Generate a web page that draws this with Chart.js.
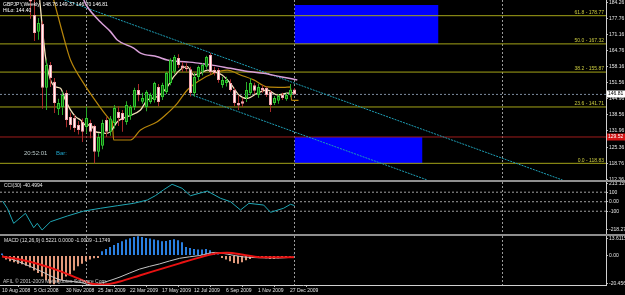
<!DOCTYPE html>
<html>
<head>
<meta charset="utf-8">
<script src="https://cdn.jsdelivr.net/npm/chart.js@4.4.1/dist/chart.umd.min.js"></script>
<style>
  html, body { margin: 0; padding: 0; background: #000; }
  #wrap { position: relative; width: 625px; height: 295px; overflow: hidden; background: #000; }
  canvas { position: absolute; left: 0; display: block; }
  .sep { position: absolute; left: 0; width: 625px; height: 2px; background: #8e8e8e; }
</style>
</head>
<body>
<div id="wrap">
  <canvas id="priceChart" style="top:0;width:625px;height:180px" width="625" height="180"></canvas>
  <div class="sep" style="top:180px"></div>
  <canvas id="cciChart" style="top:182px;width:625px;height:52px" width="625" height="52"></canvas>
  <div class="sep" style="top:234px"></div>
  <canvas id="macdChart" style="top:236px;width:625px;height:59px" width="625" height="59"></canvas>
</div>
<script>
// weekly candles, first visible week = 7 (week 0 = 10 Aug 2008)
var firstWeek = 7;
var opens  = [191, 179, 172.2, 175.5, 149.5, 158.7, 152, 140.8, 141.7, 147.4,
              137.6, 137.2, 134.4, 135.6, 133.6, 135.2, 134, 123.5, 126, 136.4,
              131.6, 135.2, 139.7, 139.3, 135.6, 138, 141.7, 148.6, 143.8, 141.7,
              143.7, 144.5, 149.8, 145.7, 147.8, 151.4, 156, 161.6, 158.5, 157.5,
              157, 147.4, 153.9, 156, 158, 162.8, 156.7, 156.7, 150.6, 151.4,
              151.4, 148.6, 143.3, 144, 145.4, 147.4, 150.5, 146.6, 149.4, 149.4,
              147.8, 143.3, 144.2, 146.6, 144.8, 146.6, 148.76];
var highs  = [192, 186, 177.8, 176.5, 161, 160, 153.5, 145, 148, 148.5,
              139.5, 138.5, 136, 137, 141.7, 136.5, 134.5, 131, 136.5, 137.5,
              138, 142.5, 142, 140.5, 144, 142.5, 149.5, 151, 147.5, 148.5,
              147.5, 152, 151, 151.5, 156, 161.5, 162.8, 163.1, 160, 159.5,
              158, 155.5, 158.5, 159.5, 162.5, 163.6, 158, 157.5, 154, 154,
              153, 149.5, 146.5, 145.5, 151.8, 153.5, 151.5, 151, 150.5, 150,
              148.5, 146.2, 147, 147.5, 147.5, 151, 149.37];
var lows   = [177.5, 168.5, 169, 141, 140.5, 149.8, 139.3, 138.5, 138.5, 133.5,
              132.5, 131.5, 130.5, 127.5, 131, 129, 118.83, 121.5, 124.5, 129.5,
              130, 133, 134, 131.6, 134.5, 136.5, 140.5, 144, 143, 140,
              143, 143.5, 142, 144.5, 147, 150.5, 155, 157.5, 156, 156,
              146, 146, 152.5, 154.5, 157, 155, 154.5, 151.5, 149.5, 150,
              148, 142, 140.5, 141.7, 143.7, 146.5, 147, 145.5, 147.5, 145.8,
              139.7, 142.5, 143, 144.5, 144.2, 145.8, 146.70];
var closes = [184.5, 171.7, 175.8, 149.5, 158.7, 153.5, 143.3, 143.3, 146.6, 136.4,
              134.4, 133.2, 132.4, 131.6, 137.2, 131.6, 123.5, 129.5, 135.2, 131.6,
              137, 141.3, 137.2, 136.4, 142.5, 141.7, 148.6, 146.6, 145.4, 147.8,
              146.6, 151.4, 143.7, 150.6, 155.5, 160.8, 162, 158.75, 157.5, 157,
              147.4, 153.9, 157.9, 158.75, 162, 155.9, 155.5, 152.7, 152.7, 152.7,
              148.6, 143.3, 142.3, 143, 148.6, 151.4, 148.3, 149.8, 148.4, 146.6,
              142.5, 145.4, 146.2, 145.4, 146.6, 148.7, 146.81];

// moving averages (week, price)
var fastMaWeeks = [9.3, 10.75, 12, 13.25, 14.5, 15.75, 17, 18.25, 19.5, 20.75, 22, 23.25, 24.5, 25.75, 27, 28.7, 31.2, 34.5, 36.2, 38.7,
                   41.2, 42.8, 44.9, 46.2, 47.8, 49.5, 51.2, 52.8, 54.9, 57, 59.1, 61.2, 63.7, 66.2, 68.7, 71.2, 73];
var fastMa      = [185.1, 162.1, 152.7, 149.9, 149.3, 144.5, 140.5, 137.8, 136.4, 134.4, 134.4, 131.7, 131.3, 131.0, 131.7, 135.7, 137.8, 140.5, 144.5, 145.9,
                   149.9, 154.0, 157.4, 158.1, 154.7, 155.4, 156.7, 156.0, 154.7, 151.3, 146.6, 145.2, 147.3, 148.6, 146.6, 147.3, 147.5];
var hiloWeeks = [12.8, 16.2, 17, 20.3, 23.7, 26.2, 27, 27.4, 27.8, 32, 34.5, 38.7, 41.2, 43.7, 46.2, 49.5, 52.8, 56.2, 59.5, 62.8, 66.2, 70.3, 72, 72.25, 74];
var hilo      = [185.14, 164.8, 160.8, 151.3, 143.2, 137.8, 136.4, 136.0, 128.3, 128.3, 132.4, 135.7, 139.1, 143.2, 148.6, 152.7, 155.4, 156.7, 154.7, 152.7, 149.9, 149.7, 149.9, 144.5, 144.4];
var slowMaWeeks = [20.3, 21.2, 24.5, 27, 28.7, 32.8, 34.5, 38.7, 41.2, 46.2, 49.5, 52.8, 57, 62, 65.25, 69.5, 73.7];
var slowMa      = [185.14, 182.4, 176.2, 172.3, 168.9, 165.6, 163.6, 162.1, 160.8, 160.0, 159.4, 158.6, 157.4, 156.0, 155.4, 154.0, 152.7];

// objects on the price chart
var fibNames  = ['61.8', '50.0', '38.2', '23.6', '0.0'];
var fibLevels = [178.77, 167.32, 155.87, 141.71, 118.83];
var priceTicks = [184.26, 177.76, 171.16, 164.76, 158.16, 151.56, 144.96, 138.56, 131.96, 125.36, 118.76, 112.36];
var lastPrice = 146.81;
var redLevel = 129.52;
var upperChannelWeeks = [15.5, 140], upperChannelPrices = [185.14, 112.06];
var lowerChannelWeeks = [47, 106.2], lowerChannelPrices = [146.81, 112.06];
var upperZoneWeeks = [73, 109], upperZonePrices = [183.1, 167.32];
var lowerZoneWeeks = [73, 105], lowerZonePrices = [129.52, 118.83];
var yearStarts = [21, 73, 125];

// CCI(30)
var cciWeeks  = [0, 1.2, 2.8, 5.75, 7.8, 8.7, 9.9, 12, 16.2, 20.3, 24.5, 28.7, 32.8, 36.2, 38.2, 40.2, 42.4, 44.9, 47, 51.2, 54.5, 57, 59.5, 61.6, 65.3, 67, 70.25, 72, 73];
var cciValues = [7, -69, -227, -122, -273, -227, -297, -210, -150, -98, -69, -42, -17, 18, 63, 123, 183, 141, 63, 112, 36, 0, -87, -17, -35, -111, -69, -27, -40.5];
var cciLevels = [100, 0, -100];
var cciTickValues = [195, 100, 0, -100, -290];
var cciTickLabels = ['213.159', '100', '0.00', '-100', '-218.27'];

// MACD(12,26,9), histogram one value per week from week 0
var macdHist = [1.5,
  -2.8, -3.9, -4.7, -5.6, -6.1, -7.0, -8.3, -10.3, -12.2, -14.5, -17.2, -19.5, -20.0, -18.6, -17.2, -14.5, -13.1, -10.3, -7.5, -5.6, -3.9, -2.8, -1.9, -1.7,
  3.0, 4.6, 6.0, 7.4, 8.8, 9.9, 11.1, 12.0, 13.0, 13.4, 13.0, 12.3, 11.8, 11.1, 10.6, 9.9, 10.2, 10.9, 11.3, 10.6, 9.2, 6.0, 5.3, 4.6, 4.2, 4.2, 4.6, 3.7, 2.3, 0.7,
  -1.6, -2.8, -4.0, -5.1, -5.6, -4.6, -3.3, -2.3, -1.6, -1.2, -1.6, -1.8, -2.3, -2.3, -1.8, -1.6, -1.4, -0.9,
  0.52];
var macdLineWeeks = [0, 4.5, 9.5, 14.5, 19.5, 22.5, 25.5, 29.5, 34.4, 39.4, 44.4, 49.3, 53.3, 56.3, 60.3, 64.3, 69.3, 73];
var macdMain   = [-0.2, -4.6, -10.6, -16.8, -18.6, -20.4, -18.6, -14.9, -9.4, -5.8, -1.9, 0, 2.2, 1.0, -0.9, -1.5, -1.7, -1.0009];
var macdSignal = [-0.7, -2.7, -6.2, -10.8, -16.4, -19.6, -20.1, -18.0, -13.8, -9.6, -5.4, -1.4, 1.5, 1.9, 0.6, -1.1, -1.1, -1.1749];
var macdTickValues = [12, 0, -19.3];
var macdTickLabels = ['13.6115', '0.00', '-20.4566'];

var timeTickWeeks = [0, 8, 16, 24, 32, 40, 48, 56, 64, 72];
var timeLabels = ['10 Aug 2008', '5 Oct 2008', '30 Nov 2008', '25 Jan 2009', '22 Mar 2009',
                  '17 May 2009', '12 Jul 2009', '6 Sep 2009', '1 Nov 2009', '27 Dec 2009'];

var FONT = '"Liberation Sans", Arial, sans-serif';

function pts(xs, ys) {
    return xs.map(function (x, k) { return {x: x, y: ys[k]}; });
}
function flat(level, from, to) {
    return [{x: from, y: level}, {x: to, y: level}];
}
function lineDs(data, color, width, dash, order, smooth) {
    return {
        type: 'line', data: data, borderColor: color, borderWidth: width, borderDash: dash || [],
        pointRadius: 0, fill: false, order: order, clip: 0,
        cubicInterpolationMode: smooth ? 'monotone' : 'default', tension: 0
    };
}
function isBull(k) { return closes[k] >= opens[k]; }

var yearLines = {
    id: 'yearLines',
    beforeDatasetsDraw: function (chart) {
        var ctx = chart.ctx, a = chart.chartArea, x = chart.scales.x;
        ctx.save();
        ctx.strokeStyle = '#9a9a9a';
        ctx.lineWidth = 1;
        ctx.setLineDash([2, 2]);
        yearStarts.forEach(function (w) {
            var px = Math.floor(x.getPixelForValue(w)) + 0.5;
            if (px < a.left || px > a.right) return;
            ctx.beginPath();
            ctx.moveTo(px, a.top);
            ctx.lineTo(px, a.bottom);
            ctx.stroke();
        });
        ctx.restore();
    }
};

function baseOptions(xMin, xMax) {
    return {
        responsive: false, animation: false, devicePixelRatio: 1, events: [],
        layout: {padding: 0, autoPadding: false},
        plugins: {legend: {display: false}, tooltip: {enabled: false}},
        scales: {
            x: {type: 'linear', min: xMin, max: xMax, offset: false, display: false}
        }
    };
}
function rightAxis(min, max, values, labelFor) {
    return {
        type: 'linear', position: 'right', min: min, max: max,
        afterBuildTicks: function (a) { a.ticks = values.map(function (v) { return {value: v}; }); },
        afterFit: function (a) { a.width = 19; a.paddingTop = 0; a.paddingBottom = 0; },
        grid: {drawOnChartArea: false, tickLength: 2, color: '#b8b8b8'},
        border: {color: '#d0d0d0'},
        ticks: {font: {family: FONT, size: 5}, color: '#e4e4e4', padding: 1, autoSkip: false, callback: labelFor}
    };
}

// ---------- price chart ----------
var X_MIN = -0.625, X_MAX = 150.875;
var weeks = opens.map(function (o, k) { return firstWeek + k; });

var mainOpts = baseOptions(X_MIN, X_MAX);
mainOpts.scales.y = rightAxis(112.06, 185.14, priceTicks, function (v) { return v.toFixed(2); });

var mainText = {
    id: 'mainText',
    afterDraw: function (chart) {
        var ctx = chart.ctx, y = chart.scales.y;
        ctx.save();
        ctx.font = '5px ' + FONT;
        ctx.textAlign = 'left';
        ctx.textBaseline = 'middle';
        ctx.fillStyle = '#ffffff';
        ctx.fillText('GBPJPY,Weekly  148.76 149.37 146.70 146.81', 3, 4.5);
        ctx.fillText('HiLo: 144.40', 3, 10.5);

        ctx.fillStyle = '#cccc40';
        ctx.textAlign = 'right';
        ctx.textBaseline = 'bottom';
        fibLevels.forEach(function (lv, k) {
            ctx.fillText(fibNames[k] + ' - ' + lv.toFixed(2), 604, y.getPixelForValue(lv) - 0.5);
        });

        ctx.font = '6px ' + FONT;
        ctx.textAlign = 'left';
        ctx.textBaseline = 'middle';
        ctx.fillStyle = '#b8c8c8';
        ctx.fillText('20:52:01', 24, 153.5);
        ctx.fillStyle = '#1fa3c9';
        ctx.fillText('Bar:', 56, 153.5);

        ctx.font = '5px ' + FONT;
        [[lastPrice, '#ffffff', '#000000'], [redLevel, '#d41414', '#ffffff']].forEach(function (b) {
            var py = Math.round(y.getPixelForValue(b[0]));
            ctx.fillStyle = b[1];
            ctx.fillRect(607, py - 3.5, 18, 7);
            ctx.fillStyle = b[2];
            ctx.fillText(b[0].toFixed(2), 608, py);
        });
        ctx.restore();
    }
};

new Chart(document.getElementById('priceChart'), {
    type: 'bar',
    data: {
        datasets: [
            {
                type: 'bar', order: 0, grouped: false, barThickness: 3, borderWidth: 1,
                borderSkipped: false, inflateAmount: 0, clip: 0,
                data: weeks.map(function (w, k) { return {x: w, y: [opens[k], closes[k]]}; }),
                backgroundColor: function (c) { return isBull(c.dataIndex) ? '#0b5e0b' : '#fff4f4'; },
                borderColor: function (c) { return isBull(c.dataIndex) ? '#30c830' : '#f2a6ae'; }
            },
            {
                type: 'bar', order: 1, grouped: false, barThickness: 1, borderWidth: 0, inflateAmount: 0, clip: 0,
                data: weeks.map(function (w, k) { return {x: w, y: [lows[k], highs[k]]}; }),
                backgroundColor: function (c) { return isBull(c.dataIndex) ? '#28a828' : '#a82a2a'; }
            },
            lineDs(pts(fastMaWeeks, fastMa), '#f3dfb8', 1.3, null, 2, true),
            lineDs(pts(hiloWeeks, hilo), '#b8860b', 1.2, null, 3, true),
            lineDs(pts(slowMaWeeks, slowMa), '#d9a0d9', 1.5, null, 4, true),
            lineDs(pts(upperChannelWeeks, upperChannelPrices), '#1e9fb6', 1, [2, 1], 5),
            lineDs(pts(lowerChannelWeeks, lowerChannelPrices), '#1e9fb6', 1, [2, 1], 5),
            lineDs(flat(lastPrice, X_MIN, X_MAX), '#7d8ca0', 1, [2, 2], 6),
            lineDs(flat(redLevel, X_MIN, X_MAX), '#a01c1c', 1, null, 6),
            lineDs(flat(fibLevels[0], X_MIN, X_MAX), '#a4a418', 1, null, 7),
            lineDs(flat(fibLevels[1], X_MIN, X_MAX), '#a4a418', 1, null, 7),
            lineDs(flat(fibLevels[2], X_MIN, X_MAX), '#a4a418', 1, null, 7),
            lineDs(flat(fibLevels[3], X_MIN, X_MAX), '#a4a418', 1, null, 7),
            lineDs(flat(fibLevels[4], X_MIN, X_MAX), '#a4a418', 1, null, 7),
            {type: 'line', order: 8, data: flat(upperZonePrices[0], upperZoneWeeks[0], upperZoneWeeks[1]),
             borderWidth: 0, pointRadius: 0, fill: '+1', backgroundColor: '#0000ff', clip: 0},
            {type: 'line', order: 8, data: flat(upperZonePrices[1], upperZoneWeeks[0], upperZoneWeeks[1]),
             borderWidth: 0, pointRadius: 0, fill: false, clip: 0},
            {type: 'line', order: 8, data: flat(lowerZonePrices[0], lowerZoneWeeks[0], lowerZoneWeeks[1]),
             borderWidth: 0, pointRadius: 0, fill: '+1', backgroundColor: '#0000ff', clip: 0},
            {type: 'line', order: 8, data: flat(lowerZonePrices[1], lowerZoneWeeks[0], lowerZoneWeeks[1]),
             borderWidth: 0, pointRadius: 0, fill: false, clip: 0}
        ]
    },
    options: mainOpts,
    plugins: [yearLines, mainText]
});

// ---------- CCI ----------
var cciOpts = baseOptions(X_MIN, X_MAX);
cciOpts.scales.y = rightAxis(-339, 207, cciTickValues, function (v) {
    return cciTickLabels[cciTickValues.indexOf(v)];
});
var cciText = {
    id: 'cciText',
    afterDraw: function (chart) {
        var ctx = chart.ctx;
        ctx.save();
        ctx.font = '5px ' + FONT;
        ctx.textBaseline = 'middle';
        ctx.fillStyle = '#e8e8e8';
        ctx.fillText('CCI(30) -40.4994', 4, 4);
        ctx.restore();
    }
};
new Chart(document.getElementById('cciChart'), {
    type: 'line',
    data: {
        datasets: [
            lineDs(pts(cciWeeks, cciValues), '#1fa6b4', 1, null, 0),
            lineDs(flat(cciLevels[0], X_MIN, X_MAX), '#a0a0a0', 1, [2, 2], 1),
            lineDs(flat(cciLevels[1], X_MIN, X_MAX), '#a0a0a0', 1, [2, 2], 1),
            lineDs(flat(cciLevels[2], X_MIN, X_MAX), '#a0a0a0', 1, [2, 2], 1)
        ]
    },
    options: cciOpts,
    plugins: [yearLines, cciText]
});

// ---------- MACD ----------
var macdOpts = baseOptions(-0.5, 151);
macdOpts.scales.y = rightAxis(-20.4566, 13.6115, macdTickValues, function (v) {
    return macdTickLabels[macdTickValues.indexOf(v)];
});
macdOpts.scales.x = {
    type: 'linear', min: -0.5, max: 151, offset: false, position: 'bottom',
    afterBuildTicks: function (a) { a.ticks = timeTickWeeks.map(function (v) { return {value: v}; }); },
    afterFit: function (a) { a.height = 10; a.paddingLeft = 0; a.paddingRight = 0; },
    grid: {drawOnChartArea: false, tickLength: 2, color: '#b8b8b8'},
    border: {color: '#d0d0d0'},
    ticks: {
        font: {family: FONT, size: 5}, color: '#e0e0e0', padding: 1, autoSkip: false,
        maxRotation: 0, align: 'start',
        callback: function (v) { return timeLabels[timeTickWeeks.indexOf(v)]; }
    }
};
var macdText = {
    id: 'macdText',
    afterDraw: function (chart) {
        var ctx = chart.ctx;
        ctx.save();
        ctx.font = '5px ' + FONT;
        ctx.textBaseline = 'middle';
        ctx.fillStyle = '#e0e0e0';
        ctx.fillText('MACD (12,26,9) 0.5221 0.0000 -1.0009 -1.1749', 4, 4.5);
        ctx.fillStyle = '#c8c8c8';
        ctx.fillText('AFIL \u00a9 2001-2009 MetaQuotes Software Corp.', 3, 46);
        ctx.restore();
    }
};
new Chart(document.getElementById('macdChart'), {
    type: 'bar',
    data: {
        datasets: [
            lineDs(pts(macdLineWeeks, macdSignal), '#e81212', 2, null, 0, true),
            lineDs(pts(macdLineWeeks, macdMain), '#c4c4c4', 1, null, 1, true),
            {
                type: 'bar', order: 2, grouped: false, barThickness: 2, borderWidth: 0, inflateAmount: 0, clip: 0,
                data: macdHist.map(function (v, k) { return {x: k, y: v}; }),
                backgroundColor: function (c) {
                    return macdHist[c.dataIndex] >= 0 ? '#2a7fe0' : '#e29a7c';
                }
            }
        ]
    },
    options: macdOpts,
    plugins: [yearLines, macdText]
});
</script>
</body>
</html>
